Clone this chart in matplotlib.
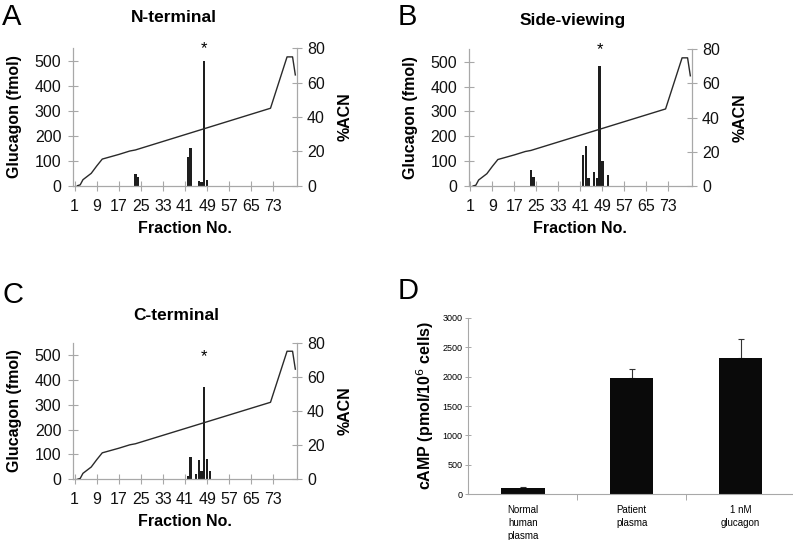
import matplotlib
matplotlib.use("Agg")
import matplotlib.pyplot as plt
import numpy as np

plt.rcParams['font.family'] = ['Liberation Sans', 'DejaVu Sans']

# ---------------- data ----------------
fraction_ticks = [1, 9, 17, 25, 33, 41, 49, 57, 65, 73]

# %ACN gradient (vertices)
acn_fraction = [2, 3, 4, 7, 9, 11, 17, 21, 23, 72, 78, 80, 81]
acn_percent = [0, 0.5, 3.5, 7.2, 11.5, 15.5, 18.2, 20.2, 20.8, 45.1, 75, 75, 64.5]

# Panel A: N-terminal
a_fraction = [23, 24, 42, 43, 46, 47, 48, 49]
a_glucagon = [45, 33, 113, 150, 20, 16, 500, 21]

# Panel B: Side-viewing
b_fraction = [23, 24, 42, 43, 44, 46, 47, 48, 49, 51]
b_glucagon = [65, 37, 125, 162, 31, 58, 31, 481, 100, 44]

# Panel C: C-terminal
c_fraction = [42, 43, 45, 46, 47, 48, 49, 50]
c_glucagon = [15, 91, 20, 78, 33, 370, 82, 34]

# Panel D: cAMP
d_categories = ["Normal\nhuman\nplasma", "Patient\nplasma", "1 nM\nglucagon"]
d_camp = [112, 1970, 2320]
d_err = [18, 157, 310]

# ---------------- figure ----------------
W, H = 793, 540
fig = plt.figure(figsize=(W / 100, H / 100), dpi=100)

def px_axes(l, t, r, b):
    return fig.add_axes([l / W, 1 - b / H, (r - l) / W, (b - t) / H])

SPINE = '#a8a8a8'
BAR = '#1e1e1e'

def hplc_panel(rect, title, title_xy, fr, vals, star_y, letter, letter_xy):
    ax = px_axes(*rect)
    ax.bar(fr, vals, width=0.85, color=BAR, zorder=2)
    ax.set_xlim(0.5, 81.5)
    ax.set_ylim(0, 550)
    ax.set_yticks([0, 100, 200, 300, 400, 500])
    ax.set_xticks(fraction_ticks)
    for s in ['top', 'right']:
        ax.spines[s].set_visible(False)
    for s in ['left', 'bottom']:
        ax.spines[s].set_color(SPINE)
        ax.spines[s].set_linewidth(0.9)
    ax.tick_params(axis='both', direction='inout', length=7, width=0.8,
                   color=SPINE, labelsize=11.5, labelcolor='#111111')
    ax.tick_params(axis='y', pad=5)
    ax.tick_params(axis='x', pad=6)
    ax.set_ylabel("Glucagon (fmol)", fontsize=11.5, fontweight='bold', labelpad=9)
    ax.set_xlabel("Fraction No.", fontsize=11.5, fontweight='bold', labelpad=5)

    ax2 = ax.twinx()
    ax2.plot(acn_fraction, acn_percent, color='#2a2a2a', lw=1.0, zorder=3)
    ax2.set_ylim(0, 80)
    ax2.set_yticks([0, 20, 40, 60, 80])
    for s in ['top', 'left', 'bottom']:
        ax2.spines[s].set_visible(False)
    ax2.spines['right'].set_color(SPINE)
    ax2.spines['right'].set_linewidth(0.9)
    ax2.tick_params(axis='y', direction='inout', length=7, width=0.8,
                    color=SPINE, labelsize=11.5, labelcolor='#111111', pad=4)
    ax2.set_ylabel("%ACN", fontsize=11.5, fontweight='bold', labelpad=9)

    ax.text(48, star_y, "*", ha='center', va='center', fontsize=12,
            clip_on=False, zorder=4)
    fig.text(title_xy[0] / W, 1 - title_xy[1] / H, title, ha='center',
             va='center', fontsize=12.5, fontweight='bold')
    fig.text(letter_xy[0] / W, 1 - letter_xy[1] / H, letter, ha='left',
             va='top', fontsize=21)
    return ax

hplc_panel((73.3, 48.3, 296.7, 185.7), "N-terminal", (174, 18),
           a_fraction, a_glucagon, 548, "A", (2, 3))
hplc_panel((469, 49.3, 691.7, 186), "Side-viewing", (573, 20),
           b_fraction, b_glucagon, 548, "B", (398, 3))
hplc_panel((73.3, 342.7, 296.7, 479.3), "C-terminal", (176, 316),
           c_fraction, c_glucagon, 495, "C", (2, 281))

# ---------------- panel D ----------------
axd = px_axes(468.3, 317.7, 795, 494.3)
xd = np.arange(len(d_categories))
axd.bar(xd, d_camp, width=0.4, color='#0a0a0a', zorder=2)
axd.errorbar(xd, d_camp, yerr=[np.zeros(len(d_err)), d_err], fmt='none',
             ecolor='#333333', elinewidth=0.8, capsize=2.5, capthick=0.8,
             zorder=1)
axd.set_xlim(-0.5, 2.5)
axd.set_ylim(0, 3000)
axd.set_yticks([0, 500, 1000, 1500, 2000, 2500, 3000])
axd.set_xticks([0.5, 1.5])
axd.set_xticklabels([])
axd.set_xticks(xd, minor=True)
axd.set_xticklabels(d_categories, minor=True, fontsize=7, linespacing=1.35)
axd.tick_params(axis='x', which='minor', length=0, pad=8)
axd.tick_params(axis='x', which='major', direction='out', length=4,
                width=0.7, color=SPINE)
axd.tick_params(axis='y', direction='inout', length=4, width=0.7,
                color=SPINE, labelsize=6.5, pad=2)
for s in ['top', 'right']:
    axd.spines[s].set_visible(False)
for s in ['left', 'bottom']:
    axd.spines[s].set_color(SPINE)
    axd.spines[s].set_linewidth(0.8)
axd.set_ylabel("cAMP (pmol/10$^{6}$ cells)", fontsize=11.5, fontweight='bold',
               labelpad=5)
fig.text(398 / W, 1 - 277 / H, "D", ha='left', va='top', fontsize=21)

fig.savefig("out.png", dpi=100)
